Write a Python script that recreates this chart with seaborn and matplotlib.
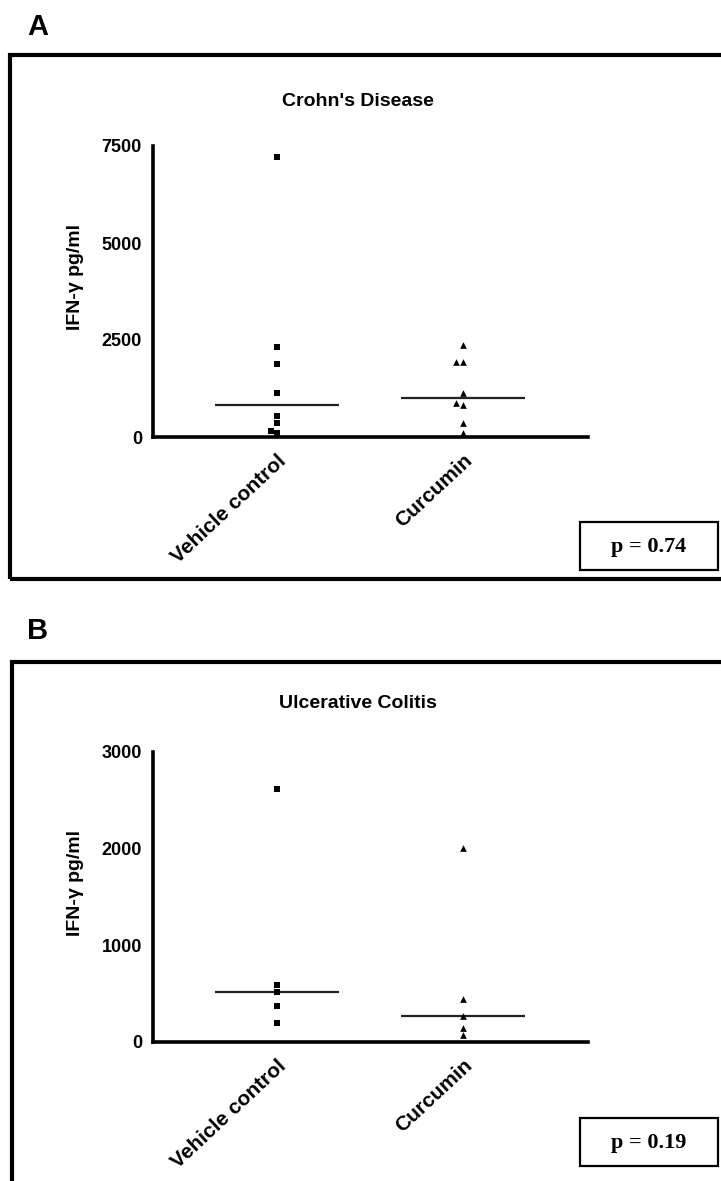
import numpy as np
import pandas as pd
import matplotlib
matplotlib.use("Agg")
import matplotlib.pyplot as plt
import seaborn as sns
from matplotlib.patches import Rectangle

# ---------------- data ----------------
groups = ["Vehicle control", "Curcumin"]

cd_vehicle = [7220, 2310, 1880, 1125, 550, 370, 155, 95]
cd_curcumin = [2370, 1930, 1930, 1130, 880, 820, 360, 100]

uc_vehicle = [2620, 590, 515, 375, 200]
uc_curcumin = [2010, 445, 270, 150, 72]

panel_titles = ["Crohn's Disease", "Ulcerative Colitis"]
panel_letters = ["A", "B"]
p_texts = ["p = 0.74", "p = 0.19"]
y_ticks_cd = [0, 2500, 5000, 7500]
y_ticks_uc = [0, 1000, 2000, 3000]
y_label = "IFN-γ pg/ml"

# ---------------- figure ----------------
sns.set_theme(style="white")
plt.rcParams["font.family"] = ["Liberation Sans", "DejaVu Sans"]
plt.rcParams["text.color"] = "black"
plt.rcParams["axes.labelcolor"] = "black"
plt.rcParams["xtick.color"] = "black"
plt.rcParams["ytick.color"] = "black"

W, H = 721, 1181
fig = plt.figure(figsize=(W / 100, H / 100), dpi=100)
fig.patch.set_facecolor("white")


def fx(px):
    return px / W


def fy(py):
    return 1 - py / H


def draw_panel(ax_box, vehicle, curcumin, yticks, title, title_y, letter, letter_y,
               frame, pbox, ptext):
    left, top, right, bottom = ax_box
    ax = fig.add_axes([fx(left), fy(bottom), fx(right - left), (bottom - top) / H])
    df_v = pd.DataFrame({"group": groups[0], "value": vehicle})
    df_c = pd.DataFrame({"group": groups[1], "value": curcumin})
    sns.swarmplot(data=df_v, x="group", y="value", order=groups, marker="s",
                  color="black", size=4.6, linewidth=0, ax=ax)
    sns.swarmplot(data=df_c, x="group", y="value", order=groups, marker="^",
                  color="black", size=4.8, linewidth=0, ax=ax)
    for coll in ax.collections:
        coll.set_clip_on(False)
    for i, vals in enumerate([vehicle, curcumin]):
        ax.hlines(np.median(vals), i - 0.335, i + 0.335, color="#222222", lw=1.6)
    ax.set_xlim(-0.667, 1.672)
    ax.set_ylim(yticks[0], yticks[-1])
    ax.set_yticks(yticks)
    ax.set_yticklabels([str(t) for t in yticks], fontsize=13, fontweight="bold")
    ax.set_xticks([0, 1])
    ax.set_xticklabels(groups, fontsize=15, fontweight="bold", rotation=43,
                       ha="right", va="top", rotation_mode="anchor")
    ax.tick_params(axis="x", length=0, pad=10)
    ax.tick_params(axis="y", length=6, width=2.5, direction="out", pad=2, color="black")
    ax.set_xlabel("")
    ax.set_ylabel(y_label, fontsize=14, fontweight="bold")
    ax.yaxis.set_label_coords(-0.158, 0.55)
    for s in ["top", "right"]:
        ax.spines[s].set_visible(False)
    for s in ["left", "bottom"]:
        ax.spines[s].set_linewidth(2.6)
        ax.spines[s].set_color("black")
    ax.set_facecolor("none")
    ax.grid(False)

    fig.text(fx(358), fy(title_y), title, ha="center", va="center",
             fontsize=14, fontweight="bold")
    fig.text(fx(27), fy(letter_y), letter, ha="left", va="baseline",
             fontsize=21, fontweight="bold")
    fl, ft, fr, fb = frame
    fig.add_artist(Rectangle((fx(fl), fy(fb)), fx(fr - fl), (fb - ft) / H,
                             transform=fig.transFigure, fill=False,
                             edgecolor="black", lw=3.0, clip_on=False))
    bl, bt, br, bb = pbox
    fig.add_artist(Rectangle((fx(bl), fy(bb)), fx(br - bl), (bb - bt) / H,
                             transform=fig.transFigure, fill=False,
                             edgecolor="black", lw=1.6, clip_on=False))
    fig.text(fx((bl + br) / 2), fy((bt + bb) / 2 + 1), ptext, ha="center", va="center",
             fontsize=16, fontweight="bold",
             family=["Liberation Serif", "DejaVu Serif"])
    return ax


draw_panel((153, 146, 588, 437), cd_vehicle, cd_curcumin, y_ticks_cd,
           panel_titles[0], 101, panel_letters[0], 35,
           (10, 55, 760, 579), (580, 522, 718, 570), p_texts[0])
draw_panel((153, 752, 588, 1042), uc_vehicle, uc_curcumin, y_ticks_uc,
           panel_titles[1], 703, panel_letters[1], 639,
           (12, 662, 760, 1230), (580, 1118, 718, 1166), p_texts[1])

fig.savefig("out.png", dpi=100, facecolor="white")
